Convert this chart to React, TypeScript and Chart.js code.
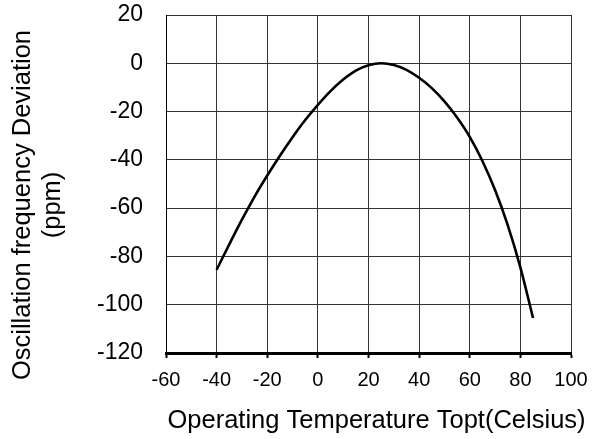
import React, { useEffect, useRef } from 'react';
import { Chart, registerables } from 'chart.js';

Chart.register(...registerables);

const temperatures = [-40, -35, -30, -25, -20, -15, -10, -5, 0, 5, 10, 15, 20, 25, 30, 35, 40, 45, 50, 55, 60, 65, 70, 75, 80, 85];
const deviations = [-85.5, -75, -64.8, -55.2, -46.5, -38.3, -30.6, -23.5, -17.2, -11.5, -6.7, -3, -0.8, 0, -0.7, -2.7, -6, -10.3, -15.8, -22.5, -30.5, -40.5, -52.5, -67, -84.5, -105.5];

const xMin = -60;
const xMax = 100;
const xStep = 20;
const yMin = -120;
const yMax = 20;
const yStep = 20;

const xTitle = 'Operating Temperature Topt(Celsius)';
const yTitleLines = ['Oscillation frequency Deviation', '(ppm)'];

const FONT = '"Liberation Sans", Arial, Helvetica, sans-serif';

export default function App() {
  const ref = useRef<HTMLCanvasElement>(null);

  useEffect(() => {
    if (!ref.current) return;
    const titlesPlugin = {
      id: 'titlesPlugin',
      afterDraw(chart: any) {
        const ctx = chart.ctx;
        const area = chart.chartArea;
        ctx.save();
        ctx.fillStyle = '#000';
        ctx.textAlign = 'center';
        ctx.textBaseline = 'middle';
        // x-axis title
        ctx.font = `25.5px ${FONT}`;
        ctx.fillText(xTitle, (area.left + area.right) / 2 + 8, area.bottom + 68);
        // y-axis title (two lines)
        ctx.translate(23, (area.top + area.bottom) / 2 + 21);
        ctx.rotate(-Math.PI / 2);
        ctx.fillText(yTitleLines[0], 0, 0);
        ctx.fillText(yTitleLines[1], 0, 30);
        ctx.restore();
      },
    };

    const chart = new Chart(ref.current, {
      type: 'line',
      data: {
        datasets: [
          {
            data: temperatures.map((t, i) => ({ x: t, y: deviations[i] })),
            borderColor: '#000',
            borderWidth: 2.6,
            pointRadius: 0,
            cubicInterpolationMode: 'monotone',
            fill: false,
          },
        ],
      },
      options: {
        animation: false,
        responsive: false,
        devicePixelRatio: 1,
        layout: { padding: { top: 15, right: 34, bottom: 0, left: 0 } },
        plugins: {
          legend: { display: false },
          tooltip: { enabled: false },
        },
        scales: {
          x: {
            type: 'linear',
            min: xMin,
            max: xMax,
            afterFit(scale: any) {
              scale.height = 86;
              scale.paddingLeft = 0;
              scale.paddingRight = 0;
            },
            ticks: {
              stepSize: xStep,
              color: '#000',
              padding: 10,
              font: { family: FONT, size: 20 },
              maxRotation: 0,
            },
            grid: {
              color: '#333',
              lineWidth: 1,
              drawTicks: true,
              tickLength: 5,
              tickColor: '#000',
              tickWidth: 2,
            },
            border: { color: '#000', width: 3 },
            title: { display: false },
          },
          y: {
            type: 'linear',
            min: yMin,
            max: yMax,
            afterFit(scale: any) {
              scale.width = 166;
              scale.paddingTop = 0;
              scale.paddingBottom = 0;
            },
            ticks: {
              stepSize: yStep,
              color: '#000',
              padding: 23,
              font: { family: FONT, size: 23 },
            },
            grid: {
              color: '#333',
              lineWidth: 1,
              drawTicks: false,
            },
            border: { color: '#000', width: 1 },
          },
        },
      },
      plugins: [titlesPlugin],
    });
    return () => chart.destroy();
  }, []);

  return (
    <div style={{ position: 'fixed', left: 0, top: 0, width: 605, height: 439, background: '#fff' }}>
      <canvas ref={ref} width={605} height={439} style={{ display: 'block', width: 605, height: 439 }} />
    </div>
  );
}
